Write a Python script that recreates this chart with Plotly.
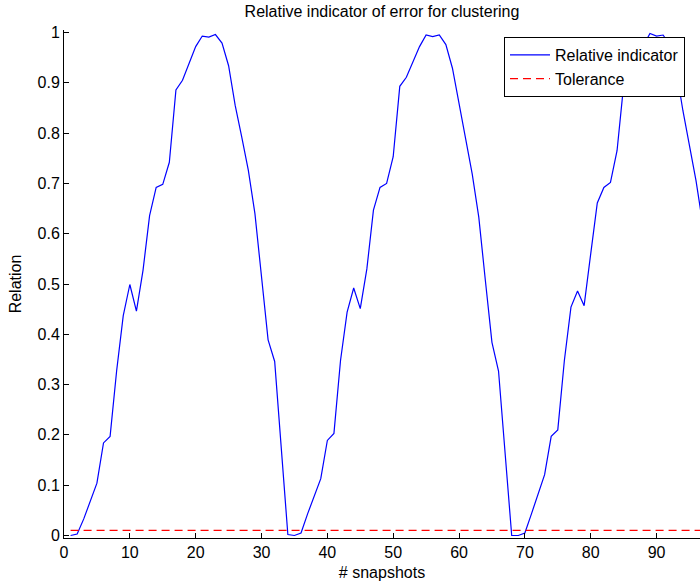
import plotly.graph_objects as go

snapshots = list(range(1, 99))
relative_indicator = [
    0.000, 0.003, 0.033, 0.070, 0.104, 0.184, 0.197, 0.328, 0.437, 0.499,
    0.446, 0.527, 0.636, 0.692, 0.698, 0.742, 0.886, 0.905, 0.939, 0.972,
    0.993, 0.991, 0.996, 0.979, 0.934, 0.855, 0.792, 0.726, 0.640, 0.520,
    0.389, 0.346, 0.174, 0.002,
    0.000, 0.005, 0.043, 0.078, 0.113, 0.189, 0.203, 0.348, 0.444, 0.492,
    0.451, 0.530, 0.647, 0.692, 0.700, 0.753, 0.893, 0.911, 0.941, 0.972,
    0.995, 0.992, 0.995, 0.976, 0.929, 0.855, 0.789, 0.719, 0.633, 0.507,
    0.384, 0.327, 0.163, 0.000,
    0.000, 0.005, 0.043, 0.083, 0.121, 0.197, 0.210, 0.348, 0.454, 0.486,
    0.457, 0.560, 0.661, 0.692, 0.702, 0.765, 0.895, 0.913, 0.944, 0.974,
    0.998, 0.993, 0.995, 0.975, 0.925, 0.845, 0.775, 0.705, 0.620, 0.500,
]
tolerance_value = 0.01
tolerance = [tolerance_value] * len(snapshots)

x_ticks = list(range(0, 100, 10))
y_ticks = [0, 0.1, 0.2, 0.3, 0.4, 0.5, 0.6, 0.7, 0.8, 0.9, 1]
y_tick_text = ["0", "0.1", "0.2", "0.3", "0.4", "0.5", "0.6", "0.7", "0.8", "0.9", "1"]

FONT = "Liberation Sans, Arial, Helvetica, sans-serif"

fig = go.Figure()
fig.add_trace(go.Scatter(
    x=snapshots, y=relative_indicator, mode="lines", name="Relative indicator",
    line=dict(color="#0000ff", width=1.2),
))
fig.add_trace(go.Scatter(
    x=snapshots, y=tolerance, mode="lines", name="Tolerance",
    line=dict(color="#ff0000", width=1.2, dash="8px,5px"),
))

fig.update_layout(
    width=700, height=584,
    margin=dict(l=64, r=0, t=30, b=46, autoexpand=False),
    paper_bgcolor="white", plot_bgcolor="white",
    font=dict(family=FONT, size=16, color="#000000"),
    title=dict(text="Relative indicator of error for clustering",
               x=0.5, xref="paper", xanchor="center",
               y=1 - 11 / 584, yref="container", yanchor="middle",
               font=dict(family=FONT, size=16, color="#000000")),
    showlegend=True,
    legend=dict(x=(504 - 64) / 636, y=1 - 7 / 508, xanchor="left", yanchor="top",
                bgcolor="white", bordercolor="#000000", borderwidth=1,
                font=dict(family=FONT, size=16, color="#000000"),
                tracegroupgap=0, itemwidth=40),
    xaxis=dict(range=[0, 96.6], tickmode="array", tickvals=x_ticks,
               ticks="inside", ticklen=5, tickcolor="#000000",
               showline=True, linecolor="#000000", linewidth=1,
               showgrid=False, zeroline=False, mirror=False, automargin=False,
               title=dict(text="# snapshots", standoff=6,
                          font=dict(family=FONT, size=16)),
               tickfont=dict(family=FONT, size=16)),
    yaxis=dict(range=[-0.005, 1.005], tickmode="array", tickvals=y_ticks,
               ticktext=y_tick_text,
               ticks="inside", ticklen=5, tickcolor="#000000",
               showline=True, linecolor="#000000", linewidth=1,
               showgrid=False, zeroline=False, mirror=False, automargin=False,
               title=dict(text="Relation", standoff=11,
                          font=dict(family=FONT, size=16)),
               tickfont=dict(family=FONT, size=16)),
)

fig.write_html("out.html", config={"displayModeBar": False},
               post_script="document.body.style.margin='0';")
